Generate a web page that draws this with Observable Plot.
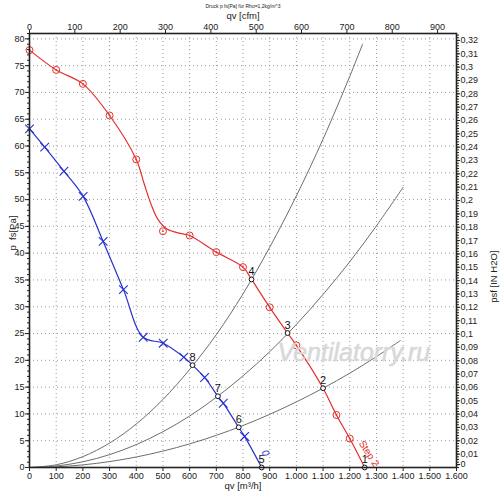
<!DOCTYPE html>
<html><head><meta charset="utf-8">
<script src="https://cdn.jsdelivr.net/npm/d3@7"></script>
<script src="https://cdn.jsdelivr.net/npm/@observablehq/plot@0.6"></script>
<style>body{margin:0;background:#fff}#chart svg{display:block}</style>
</head><body><div id="chart"></div>
<script>
// ---- data ----
const redMarkQ = [0,100,200,300,400,500,600,700,800,900,1000,1150,1200];
const redMarkP = [77.9,74.2,71.6,65.7,57.5,44.1,43.3,40.2,37.4,29.9,22.8,9.8,5.4];
const redCurveQ = [0,100,200,300,400,430,455,480,515,565,600,700,800,832,900,967,1000,1100,1150,1200,1256];
const redCurveP = [77.9,74.2,71.6,65.7,57.5,52.9,49.2,46.4,44.5,43.7,43.3,40.2,37.4,35.1,29.9,25.1,22.8,14.8,9.8,5.4,0];

const blueMarkQ = [0,57,129,201,276,352,426,501,578,656,726,806];
const blueMarkP = [63.2,59.8,55.3,50.6,42.2,33.2,24.3,23.2,20.6,16.8,12.0,5.8];
const blueCurveQ = [0,57,129,201,276,352,426,501,578,611,656,706,726,784,806,870];
const blueCurveP = [63.2,59.8,55.3,50.6,42.2,33.2,24.3,23.2,20.6,19.1,16.8,13.3,12.0,7.5,5.8,0];

const opLabel = ["1","2","3","4","5","6","7","8"];
const opQ = [1256,1100,967,832,870,784,706,611];
const opP = [0,14.8,25.1,35.1,0,7.5,13.3,19.1];

const sysAQ = [0,100,200,300,400,500,600,700,800,900,1000,1100,1200,1248];
const sysAP = [0,0.51,2.03,4.56,8.11,12.7,18.3,24.8,32.4,41.1,50.7,61.3,73.0,79.0];
const sysBQ = [0,100,200,300,400,500,600,700,800,900,1000,1100,1200,1300,1400];
const sysBP = [0,0.27,1.07,2.40,4.27,6.68,9.61,13.1,17.1,21.6,26.7,32.3,38.4,45.1,52.3];
const sysCQ = [0,100,200,300,400,500,600,700,800,900,1000,1100,1200,1300,1390];
const sysCP = [0,0.12,0.49,1.10,1.96,3.06,4.41,6.0,7.84,9.92,12.25,14.8,17.6,20.7,23.7];

const qTicks = [0,100,200,300,400,500,600,700,800,900,1000,1100,1200,1300,1400,1500,1600];
const cfmTicks = [0,100,200,300,400,500,600,700,800,900];
const pTicks = [0,5,10,15,20,25,30,35,40,45,50,55,60,65,70,75,80];
const inTicks = d3.range(1,33).map(i => i/100);   // 0,01 .. 0,32 (0 drawn separately)
const inMinor = d3.range(0,163).map(i => i*0.002);
const pMinor = d3.range(0,82);

const M3H_PER_CFM = 1.69901;
const PA_PER_INH2O = 249.089;

const red = "#e3302c", blue = "#2630d0", gray = "#6e6e6e", ink = "#222";
const toRows = (qs, ps) => qs.map((q,i) => ({q, p: ps[i]}));
const loc = d3.formatLocale({decimal:",", thousands:".", grouping:[3], currency:["",""]});
const fmtQ = loc.format(",d");
const fmtIn = v => String(+(v/PA_PER_INH2O).toFixed(2)).replace(".", ",");

const chart = Plot.plot({
  width: 500, height: 504,
  marginLeft: 29, marginRight: 44, marginTop: 33, marginBottom: 37,
  x: {domain: [0, 1600], label: null},
  y: {domain: [0, 81], label: null},
  style: {fontFamily: "Liberation Sans, Arial, sans-serif", fontSize: "9px", background: "#fff", color: ink},
  marks: [
    Plot.gridX(qTicks, {stroke: "#9a9a9a", strokeOpacity: 1, strokeDasharray: "1,3"}),
    Plot.gridY(pTicks, {stroke: "#9a9a9a", strokeOpacity: 1, strokeDasharray: "1,3"}),
    Plot.line(toRows(sysAQ, sysAP), {x: "q", y: "p", curve: "catmull-rom", stroke: gray, strokeWidth: 1}),
    Plot.line(toRows(sysBQ, sysBP), {x: "q", y: "p", curve: "catmull-rom", stroke: gray, strokeWidth: 1}),
    Plot.line(toRows(sysCQ, sysCP), {x: "q", y: "p", curve: "catmull-rom", stroke: gray, strokeWidth: 1}),
    Plot.line(toRows(redCurveQ, redCurveP), {x: "q", y: "p", curve: "catmull-rom", stroke: red, strokeWidth: 1.2}),
    Plot.line(toRows(blueCurveQ, blueCurveP), {x: "q", y: "p", curve: "catmull-rom", stroke: blue, strokeWidth: 1.2}),
    Plot.dot(toRows(redMarkQ, redMarkP), {x: "q", y: "p", r: 3.5, stroke: red, fill: "none", strokeWidth: 1}),
    Plot.dot(toRows(redMarkQ, redMarkP), {x: "q", y: "p", r: 0.9, fill: red}),
    Plot.dot(toRows(blueMarkQ, blueMarkP), {x: "q", y: "p", r: 4, symbol: "times", stroke: blue, strokeWidth: 1.1}),
    Plot.dot(opQ.map((q,i) => ({q, p: opP[i], t: opLabel[i]})), {x: "q", y: "p", r: 2.4, stroke: "#111", fill: "#fff", strokeWidth: 1}),
    Plot.text(opQ.map((q,i) => ({q, p: opP[i], t: opLabel[i]})), {x: "q", y: "p", text: "t", dy: -8, fontSize: 11, fill: "#111"}),
    Plot.text([{q: 1272, p: 2.6, t: "Step 2"}], {x: "q", y: "p", text: "t", rotate: 57, fontSize: 10, fill: red}),
    Plot.text([{q: 884, p: 2.7, t: "0"}], {x: "q", y: "p", text: "t", rotate: 60, fontSize: 10, fill: blue, fontStyle: "italic"}),
    Plot.text([{q: 929, p: 19.8, t: "Ventilatorry.ru"}], {x: "q", y: "p", text: "t", textAnchor: "start", lineAnchor: "bottom", fontSize: 25, fontStyle: "italic", fill: "#d8d8d8", stroke: "#d8d8d8", strokeWidth: 0.6}),
    Plot.frame({stroke: ink, strokeWidth: 1.6}),
    Plot.axisX(qTicks, {anchor: "bottom", tickSize: 4, tickPadding: 1, tickFormat: fmtQ, label: null, fill: ink}),
    Plot.axisX(cfmTicks.map(c => c * M3H_PER_CFM), {anchor: "top", tickSize: 4, tickPadding: 0, tickFormat: v => Math.round(v / M3H_PER_CFM), label: null, fill: ink}),
    Plot.axisY(pMinor, {anchor: "left", tickSize: 2, tickFormat: () => "", label: null}),
    Plot.axisY(pTicks, {anchor: "left", tickSize: 4, tickPadding: 1, label: null, fill: ink}),
    Plot.axisY(inMinor.map(v => v * PA_PER_INH2O).filter(v => v <= 81), {anchor: "right", tickSize: 2, tickFormat: () => "", label: null}),
    Plot.axisY(inTicks.map(v => v * PA_PER_INH2O), {anchor: "right", tickSize: 3, tickPadding: 1, tickFormat: fmtIn, label: null, fill: ink}),
    Plot.axisY([0], {anchor: "right", tickSize: 3, tickPadding: 1, tickFormat: () => "0", label: null, fill: ink, dy: -3}),
    Plot.text(["qv [m³/h]"], {text: d => d, frameAnchor: "bottom", dy: 21, fontSize: 9.5, fill: ink}),
    Plot.text(["qv [cfm]"], {text: d => d, frameAnchor: "top", dy: -21, fontSize: 9.5, fill: ink}),
    Plot.text(["Druck p fs[Pa] für Rho=1,2kg/m^3"], {text: d => d, frameAnchor: "top", dy: -29, fontSize: 5, fill: ink}),
    Plot.text(["p  fs[Pa]"], {text: d => d, frameAnchor: "left", dx: -17, rotate: -90, fontSize: 9.5, fill: ink}),
    Plot.text(["psf [IN H2O]"], {text: d => d, frameAnchor: "right", dx: 37, rotate: -90, fontSize: 9.5, fill: ink})
  ]
});
document.getElementById("chart").appendChild(chart);
</script></body></html>
